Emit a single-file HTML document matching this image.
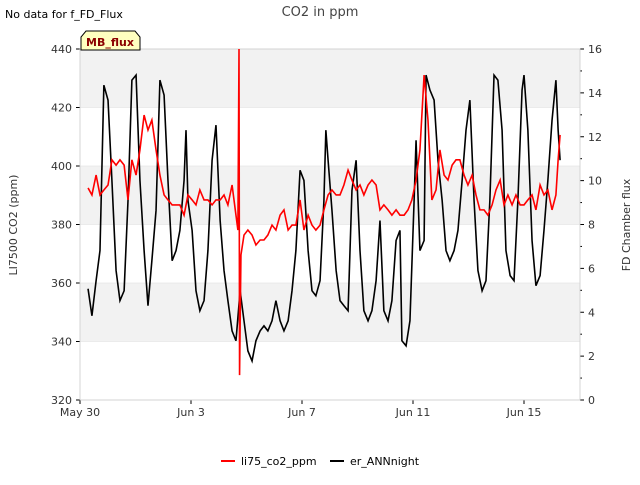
<!DOCTYPE html>
<html><head><meta charset="utf-8"><style>
body{margin:0;background:#fff;font-family:"Liberation Sans","DejaVu Sans",sans-serif}
svg text{font-family:"DejaVu Sans","Liberation Sans",sans-serif}
</style></head><body>
<svg id="chart" width="640" height="480" xmlns="http://www.w3.org/2000/svg">
<rect x="0" y="0" width="640" height="480" fill="#fff"/>
<g id="bands"></g>
<g id="axes"></g>
<g id="series"></g>
<text x="320" y="16" text-anchor="middle" font-size="13" fill="#444">CO2 in ppm</text>
<text x="5" y="18" font-size="11" fill="#000">No data for f_FD_Flux</text>
<g>
<path d="M81,50 L81,37 L86,31 L135,31 L140,37 L140,50 Z" fill="#ffffc0" stroke="#000" stroke-width="1"/>
<text x="110" y="46" text-anchor="middle" font-size="11" font-weight="bold" fill="#8b0000">MB_flux</text>
</g>
<text transform="translate(17,225) rotate(-90)" text-anchor="middle" font-size="11" fill="#333">LI7500 CO2 (ppm)</text>
<text transform="translate(630,225) rotate(-90)" text-anchor="middle" font-size="11" fill="#333">FD Chamber flux</text>
<g>
<line x1="221" y1="461" x2="235" y2="461" stroke="#f00" stroke-width="2"/>
<text x="241" y="465" font-size="11">li75_co2_ppm</text>
<line x1="330" y1="461" x2="344" y2="461" stroke="#000" stroke-width="2"/>
<text x="350" y="465" font-size="11">er_ANNnight</text>
</g>
</svg>
<script>
const xTickLabels = ["May 30","Jun 3","Jun 7","Jun 11","Jun 15"];
const xTickDays = [0,4,8,12,16];
const leftTicks = [320,340,360,380,400,420,440];
const rightTicks = [0,2,4,6,8,10,12,14,16];
const redTimes = [.29,.43,.58,.72,.86,1.01,1.15,1.30,1.44,1.59,1.73,1.87,2.02,2.16,2.31,2.45,2.59,2.74,2.88,3.03,3.17,3.32,3.46,3.60,3.75,3.89,4.04,4.18,4.32,4.47,4.61,4.76,4.90,5.05,5.19,5.33,5.48,5.62,5.69,5.73,5.75,5.80,5.91,6.05,6.20,6.34,6.49,6.63,6.77,6.92,7.06,7.21,7.35,7.50,7.64,7.78,7.93,8.07,8.22,8.36,8.50,8.65,8.79,8.94,9.08,9.23,9.37,9.51,9.66,9.80,9.95,10.09,10.23,10.38,10.52,10.67,10.81,10.95,11.10,11.24,11.39,11.53,11.68,11.82,11.96,12.11,12.25,12.40,12.54,12.68,12.83,12.97,13.12,13.26,13.41,13.55,13.69,13.84,13.98,14.13,14.27,14.41,14.56,14.70,14.85,14.99,15.14,15.28,15.42,15.57,15.71,15.86,16.00,16.14,16.29,16.43,16.58,16.72,16.86,17.01,17.15,17.23,17.30];
const redValues = [392.5,390.1,396.9,390.1,391.8,393.5,402.1,400.3,402.1,400.3,388.4,402.1,396.9,405.5,417.4,412.3,415.7,405.5,396.9,390.1,388.4,386.7,386.7,386.7,383.2,390.1,388.4,386.7,391.8,388.4,388.4,386.7,388.4,388.4,390.1,386.7,393.5,383.2,378.1,440,328.5,369.6,376.4,378.1,376.4,373,374.7,374.7,376.4,379.8,378.1,383.2,385,378.1,379.8,379.8,388.4,378.1,383.2,379.8,378.1,379.8,385,390.1,391.8,390.1,390.1,393.5,398.6,395.2,391.8,393.5,390.1,393.5,395.2,393.5,385,386.7,385,383.2,385,383.2,383.2,385,388.4,395.2,405.5,431.1,415.7,388.4,391.8,405.5,396.9,395.2,400.3,402.1,402.1,396.9,393.5,396.9,390.1,385,385,383.2,386.7,391.8,395.2,386.7,390.1,386.7,390.1,386.7,386.7,388.4,390.1,385,393.5,390.1,391.8,385,390.1,402.1,410.6];
const blackTimes = [.29,.43,.58,.72,.86,1.01,1.15,1.30,1.44,1.59,1.73,1.87,2.02,2.16,2.31,2.45,2.59,2.74,2.88,3.03,3.17,3.32,3.46,3.60,3.75,3.82,3.89,4.04,4.18,4.32,4.47,4.61,4.76,4.90,5.05,5.19,5.33,5.48,5.62,5.77,5.91,6.05,6.20,6.34,6.49,6.63,6.77,6.92,7.06,7.21,7.35,7.50,7.64,7.78,7.93,8.07,8.22,8.36,8.50,8.65,8.79,8.86,8.94,9.08,9.23,9.37,9.51,9.66,9.80,9.95,10.09,10.23,10.38,10.52,10.67,10.81,10.95,11.10,11.24,11.39,11.53,11.60,11.75,11.89,12.04,12.11,12.25,12.40,12.47,12.61,12.76,12.90,13.05,13.19,13.33,13.48,13.62,13.77,13.91,14.05,14.20,14.34,14.49,14.63,14.77,14.92,15.06,15.21,15.35,15.50,15.64,15.78,15.93,16.00,16.14,16.29,16.43,16.58,16.72,16.86,17.01,17.15,17.23,17.30];
const blackValues = [5.07,3.84,5.44,6.81,14.35,13.67,10.01,5.90,4.53,4.98,9.10,14.58,14.81,10.01,6.81,4.30,6.35,8.64,14.58,13.90,10.01,6.35,6.81,7.73,10.01,12.30,9.10,7.73,4.98,4.07,4.53,6.81,10.93,12.53,8.18,5.90,4.53,3.15,2.70,4.98,3.61,2.24,1.78,2.70,3.15,3.38,3.15,3.61,4.53,3.61,3.15,3.61,4.98,6.81,10.47,10.01,6.81,4.98,4.75,5.44,9.10,12.30,10.93,8.64,5.90,4.53,4.30,4.07,9.55,10.93,6.81,4.07,3.61,4.07,5.44,8.18,4.07,3.61,4.53,7.27,7.73,2.70,2.47,3.61,9.10,11.84,6.81,7.27,14.81,14.13,13.67,10.93,9.10,6.81,6.35,6.81,7.73,10.01,12.30,13.67,9.10,5.90,4.98,5.44,9.10,14.81,14.58,12.30,6.81,5.67,5.44,9.10,14.13,14.81,12.30,7.27,5.21,5.67,7.73,10.01,12.75,14.58,12.30,10.93];

const NS="http://www.w3.org/2000/svg";
const X0=80,X1=580,YT=49,YB=400;
const xs=d=>X0+d*27.75;
const yl=v=>YB-(v-320)/120*(YB-YT);
const yr=v=>YB-v/16*(YB-YT);
function mk(tag,attrs,parent){const e=document.createElementNS(NS,tag);for(const k in attrs)e.setAttribute(k,attrs[k]);parent.appendChild(e);return e;}
const bands=document.getElementById('bands'),axes=document.getElementById('axes'),series=document.getElementById('series');
mk('rect',{x:X0,y:YT,width:X1-X0,height:YB-YT,fill:'#fff'},bands);
[[420,440],[380,400],[340,360]].forEach(b=>{
  const r=mk('rect',{x:X0,y:yl(b[1]),width:X1-X0,height:yl(b[0])-yl(b[1]),fill:'#f2f2f2'},bands);
  
  
});
leftTicks.forEach(v=>{
  mk('line',{x1:X0,y1:yl(v),x2:X1,y2:yl(v),stroke:'#ddd','stroke-width':0.6},bands);
  mk('line',{x1:X0-4,y1:yl(v),x2:X0,y2:yl(v),stroke:'#000'},axes);
  const t=mk('text',{x:X0-8,y:yl(v)+4,'text-anchor':'end','font-size':11,fill:'#333'},axes);
  t.textContent=v;
  
  
});
for(let v=0;v<=16;v++){
  const major=rightTicks.includes(v);
  mk('line',{x1:X1,y1:yr(v),x2:X1+(major?4:2),y2:yr(v),stroke:'#000'},axes);
  if(major){
    const t=mk('text',{x:X1+8,y:yr(v)+4,'font-size':11,fill:'#333'},axes);
    t.textContent=v;
    
    
  }
}
xTickDays.forEach((d,i)=>{
  mk('line',{x1:xs(d),y1:YB,x2:xs(d),y2:YB+4,stroke:'#000'},axes);
  const t=mk('text',{x:xs(d),y:YB+16,'text-anchor':'middle','font-size':11,fill:'#333'},axes);
  t.textContent=xTickLabels[i];
  
  
});
mk('rect',{x:X0,y:YT,width:X1-X0,height:YB-YT,fill:'none',stroke:'#ccc','stroke-width':0.8},axes);
const pb=mk('polyline',{points:blackTimes.map((t,i)=>xs(t)+','+yr(blackValues[i])).join(' '),fill:'none',stroke:'#000','stroke-width':1.6},series);


const pr=mk('polyline',{points:redTimes.map((t,i)=>xs(t)+','+yl(redValues[i])).join(' '),fill:'none',stroke:'#f00','stroke-width':1.6},series);


</script>
</body></html>
